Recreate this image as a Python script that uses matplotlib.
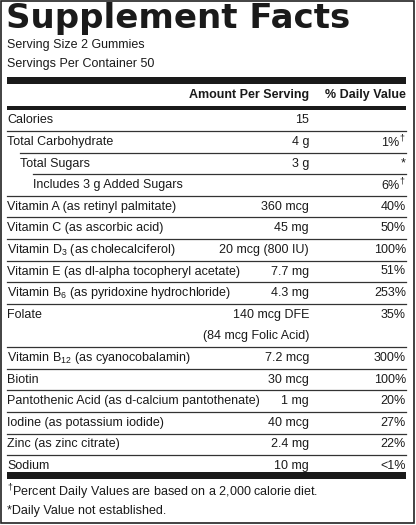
import matplotlib
matplotlib.use("Agg")
import matplotlib.pyplot as plt
from matplotlib.patches import Rectangle

plt.rcParams['font.family'] = ['Liberation Sans', 'DejaVu Sans']
plt.rcParams['mathtext.fontset'] = 'custom'
plt.rcParams['mathtext.rm'] = 'Liberation Sans'
plt.rcParams['mathtext.it'] = 'Liberation Sans'
plt.rcParams['mathtext.default'] = 'rm'

title = "Supplement Facts"
serving = ["Serving Size 2 Gummies", "Servings Per Container 50"]
header = ["Amount Per Serving", "% Daily Value"]

top_names = ["Calories", "Total Carbohydrate", "Total Sugars", "Includes 3 g Added Sugars"]
top_indent = [0, 0, 13, 26]
top_amounts = ["15", "4 g", "3 g", ""]
top_dv = ["", r"1%$^{†}$", "*", r"6%$^{†}$"]

names = ["Vitamin A (as retinyl palmitate)", "Vitamin C (as ascorbic acid)",
         r"Vitamin D$_3$ (as cholecalciferol)", "Vitamin E (as dl-alpha tocopheryl acetate)",
         r"Vitamin B$_6$ (as pyridoxine hydrochloride)", "Folate",
         r"Vitamin B$_{12}$ (as cyanocobalamin)", "Biotin",
         "Pantothenic Acid (as d-calcium pantothenate)", "Iodine (as potassium iodide)",
         "Zinc (as zinc citrate)", "Sodium"]
amounts = ["360 mcg", "45 mg", "20 mcg (800 IU)", "7.7 mg", "4.3 mg",
           "140 mcg DFE\n(84 mcg Folic Acid)", "7.2 mcg", "30 mcg", "1 mg",
           "40 mcg", "2.4 mg", "10 mg"]
dvs = ["40%", "50%", "100%", "51%", "253%", "35%", "300%", "100%", "20%", "27%", "22%", "<1%"]
heights = [1, 1, 1, 1, 1, 2, 1, 1, 1, 1, 1, 1]

footnotes = [r"$^{†}$Percent Daily Values are based on a 2,000 calorie diet.",
             "*Daily Value not established."]

W, H = 416, 525
fig = plt.figure(figsize=(W / 100, H / 100), dpi=100)
ax = fig.add_axes([0, 0, 1, 1])
ax.set_xlim(0, W)
ax.set_ylim(H, 0)
ax.axis('off')

ax.add_patch(Rectangle((1, 1), W - 3, H - 3, fill=False, lw=1.2, ec='#222'))

L, R, A = 7, 406, 309
fs = 9
col = '#1a1a1a'

ax.text(L - 1, 28, title, fontsize=24.5, fontweight='black', family='DejaVu Sans',
        color=col, va='baseline', ha='left')
for i, s in enumerate(serving):
    ax.text(L, 45 + 19.5 * i, s, fontsize=fs, va='center', color=col)

ax.add_patch(Rectangle((L, 77), R - L, 7, color=col, lw=0))
ax.text(A, 95, header[0], fontsize=fs, fontweight='bold', ha='right', va='center', color=col)
ax.text(R, 95, header[1], fontsize=fs, fontweight='bold', ha='right', va='center', color=col)
ax.add_patch(Rectangle((L, 106), R - L, 3.5, color=col, lw=0))

y = 109.5
rh = 21.6
line_start = [L, L + 13, L + 26, L]
for i in range(len(top_names)):
    cy = y + rh / 2
    ax.text(L + top_indent[i], cy, top_names[i], fontsize=fs, va='center', color=col)
    ax.text(A, cy, top_amounts[i], fontsize=fs, va='center', ha='right', color=col)
    ax.text(R, cy, top_dv[i], fontsize=fs, va='center', ha='right', color=col)
    y += rh
    ax.plot([line_start[i], R], [y, y], color='#333', lw=0.9)

for i in range(len(names)):
    h = rh * heights[i]
    cy = y + rh / 2
    ax.text(L, cy, names[i], fontsize=fs, va='center', color=col)
    if heights[i] == 1:
        ax.text(A, cy, amounts[i], fontsize=fs, va='center', ha='right', color=col)
    else:
        for j, part in enumerate(amounts[i].split("\n")):
            ax.text(A, cy + rh * j, part, fontsize=fs, va='center', ha='right', color=col)
    ax.text(R, cy, dvs[i], fontsize=fs, va='center', ha='right', color=col)
    y += h
    if i < len(names) - 1:
        ax.plot([L, R], [y, y], color='#333', lw=0.9)

ax.add_patch(Rectangle((L, 472), R - L, 7, color=col, lw=0))
for i, s in enumerate(footnotes):
    ax.text(L, 492 + 19 * i, s, fontsize=fs, va='center', color=col)

fig.savefig("out.png", dpi=100)
